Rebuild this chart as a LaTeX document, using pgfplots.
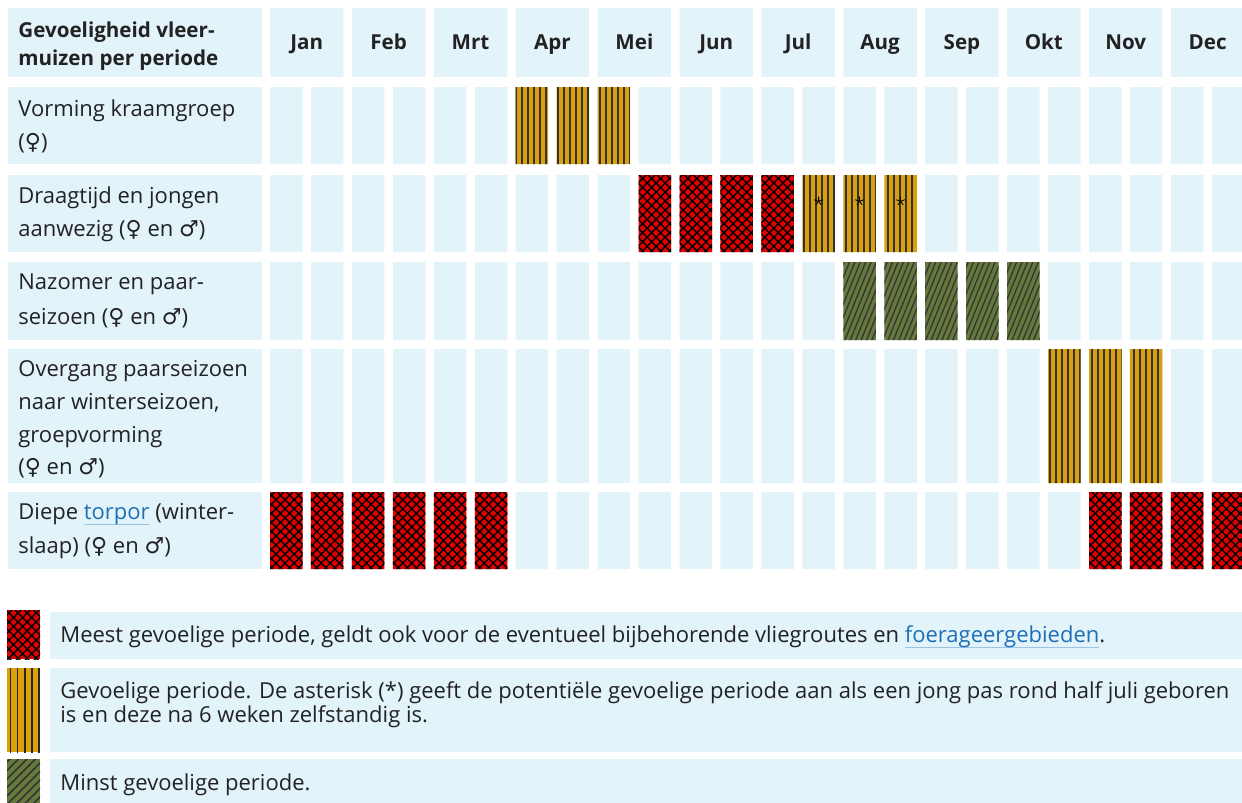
\documentclass[border=0pt]{standalone}
\usepackage{pgfplots}
\pgfplotsset{compat=1.18}
\usetikzlibrary{patterns.meta}
\usepackage{fontspec}
\setmainfont{Open Sans}
\newfontfamily\symf{DejaVu Sans}
\definecolor{bg}{HTML}{E2F3FA}
\definecolor{cred}{HTML}{E10000}
\definecolor{cyel}{HTML}{D9A00C}
\definecolor{cgrn}{HTML}{66793C}
\definecolor{txt}{HTML}{222222}
\definecolor{linkblue}{HTML}{1E6FB6}
\definecolor{ulblue}{HTML}{9CC3E4}
\newcommand\F{{\symf ♀}}
\newcommand\M{{\symf ♂}}
\newlength\lnkw
\newcommand\link[1]{\settowidth\lnkw{#1}\rlap{\textcolor{ulblue}{\rule[-3pt]{\lnkw}{0.6pt}}}\textcolor{linkblue}{#1}}
\newcommand\bodyf{\fontsize{11}{16}\selectfont}
\newcommand\headf{\fontsize{10.3}{16}\selectfont\bfseries}
\pgfplotsset{
 rowax/.style={anchor=north west, scale only axis, width=486pt, xmin=0.603, xmax=24.339, ymin=0, ymax=1,
   axis line style={draw=none}, xtick=\empty, ytick=\empty, major tick length=0pt, clip=true},
 cell/.style={ybar, bar width=0.794, bar shift=0pt, draw=none},
 bgc/.style={cell, fill=bg},
 redc/.style={cell, fill=cred, postaction={pattern={Hatch[angle=45,distance=3.2pt,line width=0.7pt]}, pattern color=black}},
 yelc/.style={cell, fill=cyel, postaction={pattern={Lines[angle=90,distance=3pt,line width=1pt]}, pattern color=black!80}},
 grnc/.style={cell, fill=cgrn, postaction={pattern={Lines[angle=68,distance=2.5pt,line width=0.65pt]}, pattern color=black!80}},
}
\newcommand\bgrow{\addplot[bgc] coordinates {(1,1)(2,1)(3,1)(4,1)(5,1)(6,1)(7,1)(8,1)(9,1)(10,1)(11,1)(12,1)(13,1)(14,1)(15,1)(16,1)(17,1)(18,1)(19,1)(20,1)(21,1)(22,1)(23,1)(24,1)};}
\newcommand\lbl[3][\bodyf]{\node[anchor=base west, inner sep=0pt, font=#1, text=txt] at (9pt,#2) {#3};}
\newcommand\lgd[2]{\node[anchor=base west, inner sep=0pt, font=\bodyf, text=txt] at (30pt,#1) {#2};}
\begin{document}
\begin{tikzpicture}
\path[use as bounding box] (0,0) rectangle (621pt,-401.5pt);
% label column cells
\fill[bg] (4pt,-4pt) rectangle (131pt,-38.5pt);
\fill[bg] (4pt,-43.5pt) rectangle (131pt,-82pt);
\fill[bg] (4pt,-87.5pt) rectangle (131pt,-126pt);
\fill[bg] (4pt,-131pt) rectangle (131pt,-170pt);
\fill[bg] (4pt,-174.5pt) rectangle (131pt,-241.5pt);
\fill[bg] (4pt,-246pt) rectangle (131pt,-284.5pt);
% header
\begin{axis}[rowax, at={(135pt,-4pt)}, height=34.5pt, axis on top,
  xtick={1.5,3.5,5.5,7.5,9.5,11.5,13.5,15.5,17.5,19.5,21.5,23.5},
  xticklabels={Jan,Feb,Mrt,Apr,Mei,Jun,Jul,Aug,Sep,Okt,Nov,Dec},
  xticklabel style={anchor=base, yshift=13.75pt, font=\headf, text=txt}]
\addplot[ybar, bar width=1.794, bar shift=0pt, draw=none, fill=bg] coordinates {(1.5,1)(3.5,1)(5.5,1)(7.5,1)(9.5,1)(11.5,1)(13.5,1)(15.5,1)(17.5,1)(19.5,1)(21.5,1)(23.5,1)};
\end{axis}
% row 1: Vorming kraamgroep
\begin{axis}[rowax, at={(135pt,-43.5pt)}, height=38.5pt]
\bgrow
\addplot[yelc] coordinates {(7,1)(8,1)(9,1)};
\end{axis}
% row 2: Draagtijd
\begin{axis}[rowax, at={(135pt,-87.5pt)}, height=38.5pt]
\bgrow
\addplot[redc] coordinates {(10,1)(11,1)(12,1)(13,1)};
\addplot[yelc] coordinates {(14,1)(15,1)(16,1)};
\addplot[only marks, mark=star, mark size=2.3pt, black] coordinates {(14,0.66)(15,0.66)(16,0.66)};
\end{axis}
% row 3: Nazomer
\begin{axis}[rowax, at={(135pt,-131pt)}, height=39pt]
\bgrow
\addplot[grnc] coordinates {(15,1)(16,1)(17,1)(18,1)(19,1)};
\end{axis}
% row 4: Overgang
\begin{axis}[rowax, at={(135pt,-174.5pt)}, height=67pt]
\bgrow
\addplot[yelc] coordinates {(20,1)(21,1)(22,1)};
\end{axis}
% row 5: Diepe torpor
\begin{axis}[rowax, at={(135pt,-246pt)}, height=38.5pt]
\bgrow
\addplot[redc] coordinates {(1,1)(2,1)(3,1)(4,1)(5,1)(6,1)(21,1)(22,1)(23,1)(24,1)};
\end{axis}
% row labels
\lbl[\headf]{-18.5pt}{Gevoeligheid vleer-}
\lbl[\headf]{-32.5pt}{muizen per periode}
\lbl{-58pt}{Vorming kraamgroep}
\lbl{-74.5pt}{(\F)}
\lbl{-101.5pt}{Draagtijd en jongen}
\lbl{-118pt}{aanwezig (\F{} en \M)}
\lbl{-144.5pt}{Nazomer en paar-}
\lbl{-162pt}{seizoen (\F{} en \M)}
\lbl{-188pt}{Overgang paarseizoen}
\lbl{-204.5pt}{naar winterseizoen,}
\lbl{-221pt}{groepvorming}
\lbl{-237pt}{(\F{} en \M)}
\lbl{-259.5pt}{Diepe \link{torpor} (winter-}
\lbl{-276.5pt}{slaap) (\F{} en \M)}
% legend
\fill[bg] (25pt,-306pt) rectangle (621pt,-329.5pt);
\fill[bg] (25pt,-334pt) rectangle (621pt,-376pt);
\fill[bg] (25pt,-379.5pt) rectangle (621pt,-401.5pt);
\fill[cred] (3.5pt,-305pt) rectangle (20pt,-329.5pt);
\fill[pattern={Hatch[angle=45,distance=3.2pt,line width=0.7pt]}, pattern color=black] (3.5pt,-305pt) rectangle (20pt,-329.5pt);
\fill[cyel] (3.5pt,-334pt) rectangle (20pt,-376pt);
\fill[pattern={Lines[angle=90,distance=3.6pt,line width=0.8pt,xshift=1.6pt]}, pattern color=black!85] (3.5pt,-334pt) rectangle (20pt,-376pt);
\fill[cgrn] (3.5pt,-379.5pt) rectangle (20pt,-401.5pt);
\fill[pattern={Lines[angle=45,distance=3pt,line width=0.8pt]}, pattern color=black!80] (3.5pt,-379.5pt) rectangle (20pt,-401.5pt);
\lgd{-321pt}{Meest gevoelige periode, geldt ook voor de eventueel bijbehorende vliegroutes en \link{foerageergebieden}.}
\lgd{-349pt}{Gevoelige periode. De asterisk (*) geeft de potentiële gevoelige periode aan als een jong pas rond half juli geboren}
\lgd{-361pt}{is en deze na 6 weken zelfstandig is.}
\lgd{-395pt}{Minst gevoelige periode.}
\end{tikzpicture}
\end{document}
